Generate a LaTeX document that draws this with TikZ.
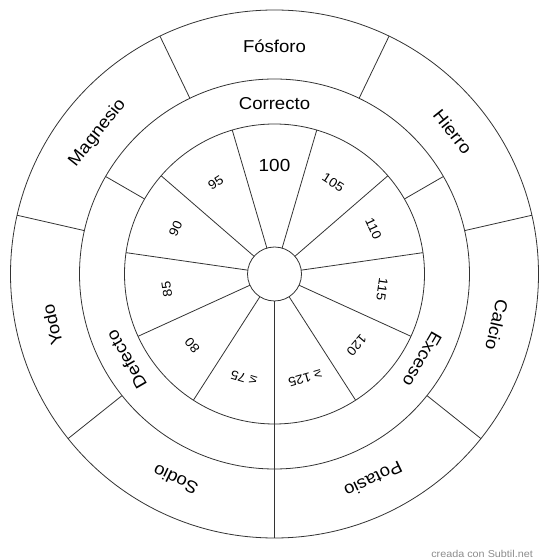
\documentclass[tikz,border=0pt]{standalone}
\usepackage{fontspec}
\setmainfont{Liberation Sans}[FakeStretch=1.08]
\begin{document}
\begin{tikzpicture}[x=1pt,y=1pt,
  ln/.style={draw=black!80, line width=0.8pt},
  biglabel/.style={font=\fontsize{17.2}{19}\selectfont, inner sep=0pt, text height=12.3pt, text depth=0pt, anchor=center},
  numlabel/.style={font=\fontsize{12.8}{14}\selectfont, inner sep=0pt, text height=9.2pt, text depth=0pt, anchor=center},
  hundred/.style={font=\fontsize{17.5}{19}\selectfont, inner sep=0pt, text height=12.5pt, text depth=0pt, anchor=center},
  wmark/.style={font=\fontsize{10}{12}\selectfont, text=black!45, inner sep=0pt, anchor=base east}
]
\useasboundingbox (0,0) rectangle (550,560);
\begin{scope}[shift={(274.5,286)}]
  % circles
  \draw[ln] (0,0) circle[radius=27];
  \draw[ln] (0,0) circle[radius=150];
  \draw[ln] (0,0) circle[radius=195];
  \draw[ln] (0,0) circle[radius=264];
  % inner spokes (11 sectors)
  \foreach \k in {0,...,10}
    \draw[ln] ({270+\k*360/11}:27) -- ({270+\k*360/11}:150);
  % middle ring dividers
  \foreach \a in {30,150,270}
    \draw[ln] (\a:150) -- (\a:195);
  % outer ring dividers (7 sectors)
  \foreach \k in {0,...,6}
    \draw[ln] ({270+\k*360/7}:195) -- ({270+\k*360/7}:264);
  % inner numbers
  \node[hundred] (n100) at (90:109) {100};
  \foreach \t [count=\k from 1] in {105,110,115,120,{≥ 125},{≤ 75},80,85,90,95}
    \node[numlabel, rotate={-\k*360/11}] (n\k) at ({90-\k*360/11}:109) {\t};
  % middle ring labels
  \node[biglabel] (correcto) at (90:171) {Correcto};
  \node[biglabel, rotate=-120] (exceso) at (-30:171) {Exceso};
  \node[biglabel, rotate=120] (defecto) at (210:171) {Defecto};
  % outer ring labels
  \foreach \t [count=\k from 0] in {Fósforo,Hierro,Calcio,Potasio,Sodio,Yodo,Magnesio}
    \node[biglabel, rotate={-\k*360/7}] (o\k) at ({90-\k*360/7}:228) {\t};
\end{scope}
\node[wmark] (wm) at (533,2.5) {creada con Subtil.net};
\end{tikzpicture}
\end{document}
